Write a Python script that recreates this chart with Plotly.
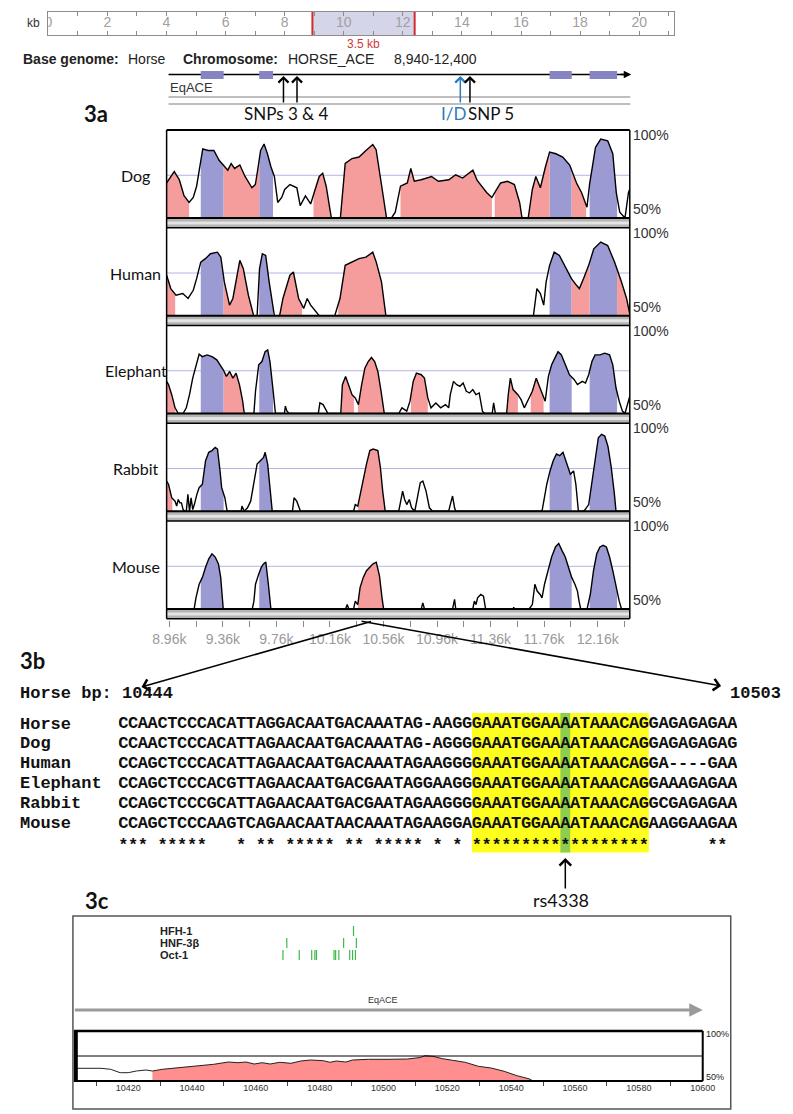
import numpy as np
import plotly.graph_objects as go

# ======================= DATA =======================
# --- top ruler (kb) ---
ruler_kb_ticks = [0, 1, 2, 3, 4, 5, 6, 7, 8, 9, 10, 11, 12, 13, 14, 15, 16, 17, 18, 19, 20, 21]
ruler_kb_labels = [0, 2, 4, 6, 8, 10, 12, 14, 16, 18, 20]
window_kb = [8.94, 12.4]
window_label = "3.5 kb"

# --- gene model / SNPs (bp) ---
exon_starts = [9195, 9632, 11801, 12100]
exon_ends = [9366, 9735, 11966, 12305]
snp34_bp = [9813, 9914]
indel_bp = 11134
snp5_bp = 11206

# --- VISTA conservation curves (bp, % identity) ---
species = ["Dog", "Human", "Elephant", "Rabbit", "Mouse"]

dog_bp = [8940, 8997, 9035, 9070, 9108, 9139, 9164, 9195, 9210, 9250, 9293, 9332, 9371, 9397, 9422, 9448,
          9487, 9526, 9577, 9603, 9624, 9642, 9668, 9693, 9719, 9745, 9770, 9800, 9822, 9861, 9913, 9938,
          9977, 10016, 10042, 10080, 10106, 10132, 10160, 10171, 10238, 10274, 10325, 10377, 10429, 10480,
          10505, 10535, 10558, 10583, 10620, 10648, 10687, 10738, 10764, 10790, 10841, 10919, 10970, 11048,
          11099, 11151, 11228, 11260, 11332, 11370, 11391, 11435, 11486, 11538, 11577, 11595, 11641, 11672,
          11698, 11732, 11770, 11801, 11848, 11899, 11951, 12002, 12040, 12080, 12100, 12144, 12183, 12235,
          12273, 12299, 12325, 12364, 12390, 12400]
dog_pct = [70.5, 77.2, 72.4, 63.0, 59.1, 62.0, 68.6, 83.8, 90.5, 89.5, 89.5, 83.8, 80.0, 78.0, 81.9, 79.0,
           81.0, 74.3, 67.7, 69.6, 80.0, 89.5, 93.3, 87.6, 80.0, 74.3, 59.1, 62.0, 66.7, 69.6, 67.7, 57.2,
           62.9, 58.2, 64.8, 74.3, 76.2, 68.6, 55.0, 50.0, 50.0, 81.9, 84.8, 85.7, 89.5, 93.0,
           90.0, 75.0, 62.0, 50.0, 50.0, 53.4, 68.6, 70.5, 79.0, 71.5, 72.4, 74.3, 71.5, 72.4,
           75.3, 73.4, 78.0, 72.0, 64.8, 62.0, 64.8, 70.5, 71.5, 69.6, 59.1, 50.0, 50.0, 66.7,
           74.3, 67.7, 80.0, 88.6, 87.6, 85.7, 81.0, 70.5, 64.8, 56.3, 70.0, 91.4, 96.2, 95.2,
           87.6, 64.8, 53.4, 50.0, 64.8, 67.0]
dog_cns_start = [8940, 9366, 10037, 10243, 10687, 11391, 11646, 11966]
dog_cns_end = [9108, 9632, 10171, 10583, 11370, 11595, 11801, 12074]

human_bp = [8940, 8971, 9010, 9061, 9100, 9139, 9164, 9195, 9229, 9268, 9319, 9345, 9371, 9410, 9435, 9461,
            9487, 9513, 9551, 9590, 9616, 9634, 9655, 9680, 9706, 9745, 9784, 9809, 9861, 9887, 9926, 9964,
            9990, 10016, 10055, 10080, 10196, 10235, 10274, 10325, 10377, 10429, 10480, 10506, 10545, 10578,
            11680, 11706, 11732, 11757, 11775, 11801, 11835, 11874, 11925, 11964, 12002, 12023, 12054, 12093,
            12131, 12183, 12235, 12286, 12338, 12376, 12400]
human_pct = [73.7, 65.9, 62.0, 63.0, 60.1, 64.9, 71.7, 81.4, 83.4, 86.3, 87.2, 84.3, 69.8, 56.2, 60.1, 71.7,
             82.4, 77.5, 62.0, 50.0, 50.0, 77.5, 86.3, 85.3, 69.8, 50.0, 50.0, 60.1, 73.7, 75.6, 60.1, 54.3,
             60.1, 56.2, 52.3, 50.0, 50.0, 60.1, 79.5, 81.4, 83.4, 84.3, 87.2, 81.4, 69.8, 50.0,
             50.0, 65.9, 63.0, 56.2, 69.8, 79.5, 87.2, 85.3, 77.5, 71.7, 67.8, 65.9, 71.7, 79.5,
             89.2, 93.1, 91.1, 81.4, 69.8, 60.1, 51.0]
human_cns_start = [8940, 9366, 9784, 10222, 11966, 12305]
human_cns_end = [9004, 9583, 9952, 10575, 12100, 12400]

elephant_bp = [8940, 8954, 8978, 9003, 9027, 9063, 9087, 9111, 9135, 9166,
               9183, 9207, 9243, 9279, 9315, 9339, 9363, 9387, 9411, 9435,
               9459, 9484, 9508, 9520, 9592, 9604, 9628, 9652, 9676, 9695,
               9712, 9736, 9753, 9820, 9827, 9839, 9856, 10073, 10085, 10109,
               10133, 10145, 10241, 10253, 10277, 10301, 10325, 10349, 10373, 10397,
               10421, 10446, 10470, 10494, 10518, 10542, 10566, 10674, 10698, 10734,
               10758, 10782, 10806, 10842, 10866, 10891, 10915, 10951, 10987, 11023,
               11047, 11059, 11083, 11107, 11131, 11155, 11179, 11203, 11227, 11251,
               11275, 11299, 11316, 11372, 11383, 11396, 11480, 11492, 11508, 11528,
               11564, 11588, 11612, 11636, 11672, 11701, 11720, 11756, 11768, 11792,
               11816, 11840, 11864, 11889, 11918, 11949, 11985, 12009, 12045, 12069,
               12093, 12117, 12141, 12177, 12213, 12249, 12273, 12297, 12321, 12345,
               12364, 12381, 12400]
elephant_pct = [68.8, 66.9, 61.0, 53.3, 50.0, 50.0, 53.3, 61.0, 70.7, 80.4,
                84.7, 83.3, 84.3, 83.3, 81.4, 78.5, 75.6, 71.7, 74.6, 70.7,
                73.6, 66.9, 57.2, 50.0, 50.0, 63.0, 78.5, 80.4, 86.2, 87.2,
                80.4, 63.0, 50.0, 50.0, 54.3, 51.4, 50.0, 50.0, 56.2, 55.2,
                51.4, 50.0, 50.0, 66.9, 71.7, 65.9, 61.0, 59.1, 55.2, 66.9,
                76.5, 80.4, 82.8, 80.4, 74.6, 63.0, 50.0, 50.0, 53.3, 51.4,
                57.2, 68.8, 73.6, 72.7, 70.7, 59.1, 53.3, 56.2, 53.3, 55.2,
                53.3, 61.0, 68.8, 66.9, 65.9, 67.8, 63.0, 62.0, 64.0, 61.0,
                62.0, 51.4, 50.0, 50.0, 56.2, 50.0, 50.0, 61.0, 70.7, 64.0,
                61.0, 58.1, 53.3, 57.2, 63.0, 70.7, 66.9, 59.1, 57.2, 71.7,
                78.5, 82.4, 86.2, 84.3, 78.5, 72.7, 69.8, 66.9, 68.8, 67.8,
                72.7, 80.4, 84.3, 84.3, 85.3, 84.3, 78.5, 64.9, 57.2, 51.4,
                50.0, 55.2, 60.1]
elephant_cns_start = [8940, 9366, 10246, 10369, 10765, 11485, 11660]
elephant_cns_end = [9005, 9513, 10339, 10566, 10891, 11564, 11756]

rabbit_bp = [8940, 8954, 8978, 9003, 9015, 9027, 9039, 9051, 9063, 9075,
             9087, 9099, 9111, 9123, 9135, 9147, 9166, 9183, 9207, 9231,
             9255, 9279, 9303, 9320, 9339, 9351, 9375, 9392, 9496, 9503,
             9520, 9544, 9568, 9592, 9616, 9640, 9664, 9676, 9695, 9712,
             9729, 9880, 9892, 9912, 9928, 9940, 10337, 10349, 10368, 10385,
             10409, 10433, 10458, 10482, 10518, 10537, 10554, 10573, 10674, 10686,
             10703, 10718, 10734, 10753, 10770, 10794, 10806, 10818, 10835, 10854,
             10878, 10903, 10927, 11047, 11059, 11076, 11091, 11100, 11744, 11756,
             11780, 11804, 11828, 11852, 11876, 11901, 11932, 11956, 11980, 11997,
             12016, 12057, 12093, 12117, 12141, 12165, 12189, 12213, 12237, 12261,
             12285, 12297, 12400]
rabbit_pct = [67.7, 65.8, 57.9, 55.9, 53.0, 56.9, 54.9, 54.9, 51.0, 50.0,
              50.0, 59.9, 50.0, 57.9, 51.0, 53.9, 59.9, 63.8, 65.8, 79.6,
              84.5, 85.5, 87.4, 86.4, 73.6, 63.8, 57.9, 50.0, 50.0, 53.0,
              50.0, 52.0, 55.9, 65.8, 77.6, 79.6, 81.5, 84.5, 77.6, 63.8,
              50.0, 50.0, 57.9, 55.9, 53.0, 50.0, 50.0, 53.9, 53.0, 59.9,
              67.7, 77.6, 85.5, 86.4, 85.5, 75.6, 61.8, 50.0, 50.0, 55.9,
              61.8, 56.9, 53.9, 56.9, 52.0, 50.0, 55.9, 59.9, 66.7, 67.7,
              61.8, 52.0, 50.0, 50.0, 53.9, 58.9, 52.0, 50.0, 50.0, 55.9,
              65.8, 73.6, 79.6, 83.5, 82.5, 84.5, 77.6, 71.7, 73.6, 65.8,
              50.0, 50.0, 53.9, 67.7, 80.0, 93.0, 95.0, 94.0, 88.0, 76.0,
              60.0, 50.0, 50.0]
rabbit_cns_start = [8940, 10370]
rabbit_cns_end = [8983, 10573]

mouse_bp = [8940, 9140, 9147, 9159, 9183, 9207, 9231, 9255, 9279, 9303,
            9327, 9344, 9363, 9580, 9592, 9604, 9628, 9647, 9664, 9681,
            9700, 9719, 10277, 10289, 10301, 10337, 10349, 10368, 10385, 10409,
            10433, 10458, 10482, 10506, 10530, 10549, 10561, 10842, 10854, 10866,
            11076, 11091, 11100, 11227, 11239, 11251, 11263, 11287, 11307, 11323,
            11528, 11533, 11538, 11648, 11672, 11691, 11708, 11730, 11744, 11763,
            11788, 11816, 11845, 11869, 11893, 11918, 11942, 11966, 11990, 12009,
            12021, 12033, 12081, 12105, 12129, 12153, 12177, 12201, 12225, 12249,
            12273, 12297, 12321, 12338, 12400]
mouse_pct = [50.0, 50.0, 50.6, 56.5, 64.5, 68.5, 74.4, 79.4, 82.3, 80.4,
             76.4, 68.5, 50.0, 50.0, 54.6, 64.5, 70.4, 74.4, 76.4, 77.4,
             64.5, 50.0, 50.0, 52.6, 50.0, 50.0, 54.6, 52.6, 62.5, 68.5,
             72.4, 74.4, 76.4, 77.4, 69.4, 56.5, 50.0, 50.0, 53.6, 50.0,
             50.0, 55.6, 50.0, 50.0, 54.6, 52.6, 56.5, 58.5, 57.5, 50.0,
             50.0, 51.0, 50.0, 50.0, 52.6, 64.5, 60.5, 58.5, 56.5, 64.5,
             72.4, 80.4, 86.3, 88.3, 84.3, 80.4, 74.4, 68.5, 64.5, 60.5,
             54.6, 50.0, 50.0, 58.5, 72.4, 82.3, 86.3, 87.3, 86.3, 80.4,
             72.4, 62.5, 54.6, 50.0, 50.0]
mouse_cns_start = [10368]
mouse_cns_end = [10561]

vista_tick_vals = [8960, 9360, 9760, 10160, 10560, 10960, 11360, 11760, 12160]
vista_tick_text = ["8.96k", "9.36k", "9.76k", "10.16k", "10.56k", "10.96k", "11.36k", "11.76k", "12.16k"]
vista_minor_vals = [9160, 9560, 9960, 10360, 10760, 11160, 11560, 11960, 12360]

# --- 3b alignment ---
align_start_bp, align_end_bp = 10444, 10503
align_names = ["Horse", "Dog", "Human", "Elephant", "Rabbit", "Mouse"]
align_seqs = [
    "CCAACTCCCACATTAGGACAATGACAAATAG-AAGGGAAATGGAAAATAAACAGGAGAGAGAA",
    "CCAACTCCCACATTAGAACAATGACAAATAG-AGGGGAAATGGAAAATAAACAGGAGAGAGAG",
    "CCAGCTCCCACATTAGAACAATGACAAATAGAAGGGGAAATGGAAAATAAACAGGA----GAA",
    "CCAGCTCCCACGTTAGAACAATGACGAATAGGAAGGGAAATGGAAAATAAACAGGAAAGAGAA",
    "CCAGCTCCCGCATTAGAACAATGACGAATAGAAGGGGAAATGGAAAATAAACAGGCGAGAGAA",
    "CCAGCTCCCAAGTCAGAACAATAACAAATAGAAGGAGAAATGGAAAATAAACAGAAGGAAGAA",
]
align_stars = "*** *****   * ** ***** ** ***** * * ******************      **"
tfbs_cols = [36, 54]
snp_col = 45
snp_name = "rs4338"

# --- 3c zoom ---
tf_names = ["HFH-1", "HNF-3β", "Oct-1"]
hfh1_bp = [10490.6]
hnf3b_bp = [10469.7, 10487.5, 10491.5]
oct1_bp = [10468.5, 10473.6, 10477.5, 10478.5, 10479.0, 10484.5, 10485.0, 10486.0, 10489.4, 10490.3, 10491.2]
zoom_bp = [10403, 10411.5, 10414.5, 10417.5, 10420, 10422.6, 10425.6, 10427.6, 10430.7, 10436.7,
           10441.8, 10446.8, 10451.4, 10454.4, 10456.9, 10459.5, 10462, 10464.5, 10467.5, 10471,
           10474.1, 10477.1, 10481.2, 10483.2, 10485.2, 10488.2, 10490.3, 10495.3, 10501.4, 10507.5,
           10511.5, 10513, 10515.5, 10518.5, 10521.6, 10525.6, 10529.7, 10533.7, 10537.8, 10541.8,
           10545.8, 10546.8, 10600]
zoom_pct = [62.7, 62.7, 61.7, 58.3, 58.3, 60.0, 61.0, 60.0, 61.7, 63.7,
            65.0, 66.7, 69.0, 68.3, 69.0, 67.0, 68.3, 67.0, 68.7, 67.7,
            70.0, 71.0, 70.3, 68.7, 70.0, 69.0, 71.0, 71.7, 71.7, 72.0,
            73.5, 75.3, 74.7, 72.3, 70.7, 68.7, 64.7, 63.0, 59.7, 55.3,
            52.0, 50.0, 50.0]
zoom_cns = [10427.6, 10546.8]
zoom_tick_vals = [10420, 10440, 10460, 10480, 10500, 10520, 10540, 10560, 10580, 10600]
zoom_minor_vals = [10410, 10430, 10450, 10470, 10490, 10510, 10530, 10550, 10570, 10590]

# ======================= LAYOUT HELPERS =======================
W, H = 793, 1114
SANS = "Liberation Sans, Arial, sans-serif"
CAL = "Lato, Open Sans, sans-serif"
MONO = "Liberation Mono, Courier New, monospace"
PINK = "#F59D9D"
BLUE = "#9C9AD2"
EXON = "#8684C2"


def PX(x):
    return x / W


def PY(y):
    return 1 - y / H


fig = go.Figure()
shapes, annotations, axes = [], [], {}


def txt(text, x, y, size=14, color="#222", family=SANS, xanchor="left", yanchor="middle"):
    annotations.append(dict(text=text, x=PX(x), y=PY(y), xref="paper", yref="paper", showarrow=False,
                            xanchor=xanchor, yanchor=yanchor, borderpad=0,
                            font=dict(size=size, color=color, family=family)))


def arrow(x, y, ax, ay, color="black", width=1.5, head=4, size=1.3, xref="paper"):
    annotations.append(dict(text="", x=PX(x) if xref == "paper" else x, y=PY(y), xref=xref, yref="paper",
                            showarrow=True, ax=ax, ay=ay, arrowhead=head, arrowsize=size,
                            arrowwidth=width, arrowcolor=color, standoff=0))


def pline(x0, y0, x1, y1, color="black", width=1.0, layer="above"):
    shapes.append(dict(type="line", xref="paper", yref="paper", x0=PX(x0), y0=PY(y0), x1=PX(x1), y1=PY(y1),
                       line=dict(color=color, width=width), layer=layer))


def prect(x0, y0, x1, y1, fill, layer="below", lc=None, lw=0):
    shapes.append(dict(type="rect", xref="paper", yref="paper", x0=PX(x0), y0=PY(y1), x1=PX(x1), y1=PY(y0),
                       fillcolor=fill, line=dict(width=lw, color=lc or fill), layer=layer))


def hide(**kw):
    d = dict(showgrid=False, zeroline=False, showticklabels=False, ticks="", showline=False, fixedrange=True)
    d.update(kw)
    return d


def region(bp, pct, a, b, base=50.0):
    bp = np.asarray(bp, float)
    pct = np.asarray(pct, float)
    inside = (bp > a) & (bp < b)
    xs = [a] + list(bp[inside]) + [b, b, a]
    ys = [float(np.interp(a, bp, pct))] + list(pct[inside]) + [float(np.interp(b, bp, pct)), base, base]
    return xs, ys


# ======================= TOP RULER =======================
axes["xaxis"] = hide(domain=[PX(35.5), PX(683)], range=[0, 21.17], anchor="y", showline=True,
                     linecolor="#8c8c8c", linewidth=1, mirror="ticks", ticks="inside", ticklen=4,
                     tickcolor="#8c8c8c", tickwidth=1, tickmode="array", tickvals=ruler_kb_ticks)
axes["yaxis"] = hide(domain=[PY(35), PY(12)], range=[0, 1], anchor="x", showline=True,
                     linecolor="#8c8c8c", linewidth=1, mirror=True)
shapes.append(dict(type="rect", xref="x", yref="y", x0=window_kb[0], x1=window_kb[1], y0=0, y1=1,
                   fillcolor="#d5d5ea", line=dict(width=0), layer="below"))
for v in window_kb:
    shapes.append(dict(type="line", xref="x", yref="y", x0=v, x1=v, y0=0, y1=1,
                       line=dict(color="#d42a2a", width=2)))
fig.add_trace(go.Scatter(x=ruler_kb_labels, y=[0.5] * len(ruler_kb_labels), mode="text",
                         text=[str(v) for v in ruler_kb_labels], textposition="middle center",
                         textfont=dict(family=SANS, size=14, color="#a0a0a0"),
                         xaxis="x", yaxis="y", hoverinfo="skip"))
txt("kb", 12, 23, size=12, color="#333")
txt(window_label, 362, 44, size=12, color="#d03a3a", xanchor="center")

# header line
txt("<b>Base genome:</b>", 8, 59, size=14)
txt("Horse", 117, 59, size=14)
txt("<b>Chromosome:</b>", 174, 59, size=14)
txt("HORSE_ACE", 283, 59, size=14)
txt("8,940-12,400", 392, 59, size=14)

# ======================= VISTA PANELS =======================
X0, X1 = 158, 637.5
tops = [130 + 97.75 * i for i in range(5)]
PH, BAND = 88, 9.75
YMAX = 101.5
curves = [(dog_bp, dog_pct, dog_cns_start, dog_cns_end),
          (human_bp, human_pct, human_cns_start, human_cns_end),
          (elephant_bp, elephant_pct, elephant_cns_start, elephant_cns_end),
          (rabbit_bp, rabbit_pct, rabbit_cns_start, rabbit_cns_end),
          (mouse_bp, mouse_pct, mouse_cns_start, mouse_cns_end)]

for i, (name, (bp, pct, cs, ce)) in enumerate(zip(species, curves)):
    k = i + 2
    top = tops[i]
    base = top + PH
    axes[f"xaxis{k}"] = hide(domain=[PX(X0), PX(X1)], range=[8940, 12400], anchor=f"y{k}")
    axes[f"yaxis{k}"] = hide(domain=[PY(base), PY(top)], range=[50, YMAX], anchor=f"x{k}")
    shapes.append(dict(type="line", xref=f"x{k} domain", x0=0, x1=1, yref=f"y{k}", y0=75, y1=75,
                       line=dict(color="#b4b4e6", width=1), layer="below"))
    for a, b in zip(exon_starts, exon_ends):
        xs, ys = region(bp, pct, a, b)
        fig.add_trace(go.Scatter(x=xs, y=ys, fill="toself", fillcolor=BLUE, mode="lines",
                                 line=dict(width=0), xaxis=f"x{k}", yaxis=f"y{k}", hoverinfo="skip"))
    for a, b in zip(cs, ce):
        xs, ys = region(bp, pct, a, b)
        fig.add_trace(go.Scatter(x=xs, y=ys, fill="toself", fillcolor=PINK, mode="lines",
                                 line=dict(width=0), xaxis=f"x{k}", yaxis=f"y{k}", hoverinfo="skip"))
    fig.add_trace(go.Scatter(x=bp, y=pct, mode="lines", line=dict(color="black", width=1.4),
                             xaxis=f"x{k}", yaxis=f"y{k}", hoverinfo="skip"))
    # band under panel
    bot = base + BAND
    prect(X0, base, X1, bot, "#b4b4b4", layer="above")
    pline(X0, base + BAND / 2, X1, base + BAND / 2, "#e4e4e4", 3)
    pline(X0, base, X1, base, "black", 1.8)
    pline(X0, bot, X1, bot, "black", 1.6)
    if i == 0:
        pline(X0, top, X1, top, "black", 1.8)
    y75 = base - (75 - 50) / (YMAX - 50) * PH
    txt(name, 126, y75, size=16, color="#111", family=CAL, xanchor="center")
    txt("100%", 640, top + 5, size=14, color="#333")
    txt("50%", 640, base - 9, size=14, color="#333")

pline(X0, tops[0], X0, tops[-1] + PH + BAND, "black", 1.5)
pline(X1, tops[0], X1, tops[-1] + PH + BAND, "black", 1.5)

# bottom coordinate axis
axes["xaxis7"] = dict(domain=[PX(X0), PX(X1)], range=[8940, 12400], anchor="y7", showgrid=False,
                      zeroline=False, showline=False, ticks="outside", ticklen=6, tickwidth=1,
                      tickcolor="#8a8a8a", tickmode="array", tickvals=vista_tick_vals,
                      ticktext=vista_tick_text, tickfont=dict(family=SANS, size=14, color="#9a9a9a"),
                      minor=dict(tickmode="array", tickvals=vista_minor_vals, ticks="outside",
                                 ticklen=6, tickwidth=1, tickcolor="#8a8a8a"), fixedrange=True)
axes["yaxis7"] = hide(domain=[PY(620), PY(619)], range=[0, 1], anchor="x7")
fig.add_trace(go.Scatter(x=[8940], y=[0.5], mode="markers", marker=dict(opacity=0), xaxis="x7",
                         yaxis="y7", hoverinfo="skip"))

# gene track
pline(160, 74.5, 633, 74.5, "black", 1.5)
arrow(639, 74.5, -12, 0, color="black", width=1.5, head=2, size=1.0)
for a, b in zip(exon_starts, exon_ends):
    shapes.append(dict(type="rect", xref="x2", yref="paper", x0=a, x1=b, y0=PY(79), y1=PY(71),
                       fillcolor=EXON, line=dict(width=0)))
txt("EqACE", 160, 88, size=13, color="#333")
pline(160, 97, 638, 97, "#a8a8a8", 1.5)
pline(160, 104, 638, 104, "#a8a8a8", 1.5)
for b in snp34_bp:
    arrow(b, 76, 0, 28, color="black", width=1.5, head=4, size=1.3, xref="x2")
arrow(indel_bp, 76, 0, 28, color="#2b7bbd", width=1.5, head=4, size=1.3, xref="x2")
arrow(snp5_bp, 76, 0, 28, color="black", width=1.5, head=4, size=1.3, xref="x2")
txt("SNPs 3 &amp; 4", 282, 113, size=17, color="#111", family=CAL, xanchor="center")
txt("I/D", 469, 113, size=17, color="#2b7bbd", family=CAL, xanchor="right")
txt("SNP 5", 469, 113, size=17, color="#111", family=CAL, xanchor="left")
txt("<b>3a</b>", 85, 113, size=22, color="#111", family=CAL, xanchor="center")

# ======================= 3b ALIGNMENT =======================
txt("<b>3b</b>", 5, 660, size=22, color="#111", family=CAL)
arrow(132, 687, 231, -66, color="black", width=1.5, head=4, size=1.5)
arrow(732, 686, -361, -65, color="black", width=1.5, head=4, size=1.5)
txt(f"<b>Horse bp: {align_start_bp}</b>".replace(" ", "\u00a0"), 5, 693, size=17, color="#111", family=MONO)
txt(f"<b>{align_end_bp}</b>", 740, 693, size=17, color="#111", family=MONO)

SEQ_X, CW, ROW0, ROWH = 108, 10.17, 724, 19.9
NCOL = len(align_seqs[0])
AY_TOP, AY_BOT = 700, 870
axes["xaxis9"] = hide(domain=[PX(SEQ_X), PX(SEQ_X + NCOL * CW)], range=[0, NCOL], anchor="y9")
axes["yaxis9"] = hide(domain=[PY(AY_BOT), PY(AY_TOP)], range=[AY_BOT, AY_TOP], anchor="x9")
shapes.append(dict(type="rect", xref="x9", yref="y9", x0=tfbs_cols[0], x1=tfbs_cols[1],
                   y0=ROW0 - 11, y1=ROW0 + 6 * ROWH + 9, fillcolor="#ffff1e", line=dict(width=0), layer="below"))
shapes.append(dict(type="rect", xref="x9", yref="y9", x0=snp_col, x1=snp_col + 1,
                   y0=ROW0 - 11, y1=ROW0 + 6 * ROWH + 9, fillcolor="#8fcd4f", line=dict(width=0), layer="below"))
rows = list(align_seqs) + [align_stars]
for r, sq in enumerate(rows):
    y = ROW0 + r * ROWH + (2 if r == len(align_seqs) else 0)
    cols = [c + 0.5 for c, ch in enumerate(sq) if ch != " "]
    chars = ["<b>" + ch + "</b>" for ch in sq if ch != " "]
    fig.add_trace(go.Scatter(x=cols, y=[y] * len(cols), mode="text", text=chars,
                             textposition="middle center", textfont=dict(family=MONO, size=17, color="#111"),
                             xaxis="x9", yaxis="y9", hoverinfo="skip"))
for r, nm in enumerate(align_names):
    txt(f"<b>{nm}</b>", 5, ROW0 + r * ROWH, size=17, color="#111", family=MONO)
snp_x = SEQ_X + (snp_col + 0.5) * CW
arrow(snp_col + 0.5, 858, 0, 32, color="black", width=1.5, head=4, size=1.5, xref="x9")
txt(snp_name, snp_x - 4, 900, size=18, color="#111", family=CAL, xanchor="center")

# ======================= 3c ZOOM =======================
txt("<b>3c</b>", 86, 900, size=22, color="#111", family=CAL, xanchor="center")
prect(61, 916, 742, 1109, "rgba(0,0,0,0)", layer="above", lc="#555", lw=1.5)
CX0, CX1, CY0, CY1 = 62, 713, 1031, 1081
axes["xaxis8"] = dict(domain=[PX(CX0), PX(CX1)], range=[10403, 10600], anchor="y8", showgrid=False,
                      zeroline=False, showline=False, ticks="", tickmode="array", tickvals=zoom_tick_vals,
                      ticktext=[str(v) for v in zoom_tick_vals], tickfont=dict(family=SANS, size=9, color="#333"),
                      minor=dict(tickmode="array", tickvals=zoom_minor_vals, ticks="outside", ticklen=4,
                                 tickwidth=1, tickcolor="#444"), fixedrange=True)
axes["yaxis8"] = hide(domain=[PY(CY1), PY(CY0)], range=[50, 100], anchor="x8")
xs, ys = region(zoom_bp, zoom_pct, zoom_cns[0], zoom_cns[1])
fig.add_trace(go.Scatter(x=xs, y=ys, fill="toself", fillcolor="#FF8E8E", mode="lines", line=dict(width=0),
                         xaxis="x8", yaxis="y8", hoverinfo="skip"))
fig.add_trace(go.Scatter(x=zoom_bp, y=zoom_pct, mode="lines", line=dict(color="#222", width=1),
                         xaxis="x8", yaxis="y8", hoverinfo="skip"))
pline(CX0, (CY0 + CY1) / 2, CX1, (CY0 + CY1) / 2, "black", 1)
pline(CX0, CY0, CX1, CY0, "black", 2.5)
pline(CX0, CY1, CX1, CY1, "black", 2)
pline(CX1, CY0, CX1, CY1, "black", 2)
pline(CX0 + 2, CY0, CX0 + 2, CY1, "black", 4)
txt("100%", 715, 1034, size=9, color="#222")
txt("50%", 715, 1077, size=9, color="#222")

tf_rows_y = [931, 943, 955]
for nm, y in zip(tf_names, tf_rows_y):
    txt(f"<b>{nm}</b>", 150, y, size=11, color="#222")
for y, sites in zip(tf_rows_y, [hfh1_bp, hnf3b_bp, oct1_bp]):
    for b in sites:
        shapes.append(dict(type="line", xref="x8", yref="paper", x0=b, x1=b, y0=PY(y + 5), y1=PY(y - 5),
                           line=dict(color="#3dba4a", width=1.2)))
txt("EqACE", 382, 1000, size=9, color="#333", xanchor="center")
pline(63, 1010, 705, 1010, "#9a9a9a", 3)
arrow(713, 1010, -14, 0, color="#9a9a9a", width=3, head=2, size=0.9)

# ======================= FINAL =======================
fig.update_layout(width=W, height=H, margin=dict(l=0, r=0, t=0, b=0), paper_bgcolor="white",
                  plot_bgcolor="white", showlegend=False, shapes=shapes, annotations=annotations, **axes)
fig.write_html("out.html", config={"displayModeBar": False},
               post_script="document.body.style.margin='0px';document.body.style.overflow='hidden';")
